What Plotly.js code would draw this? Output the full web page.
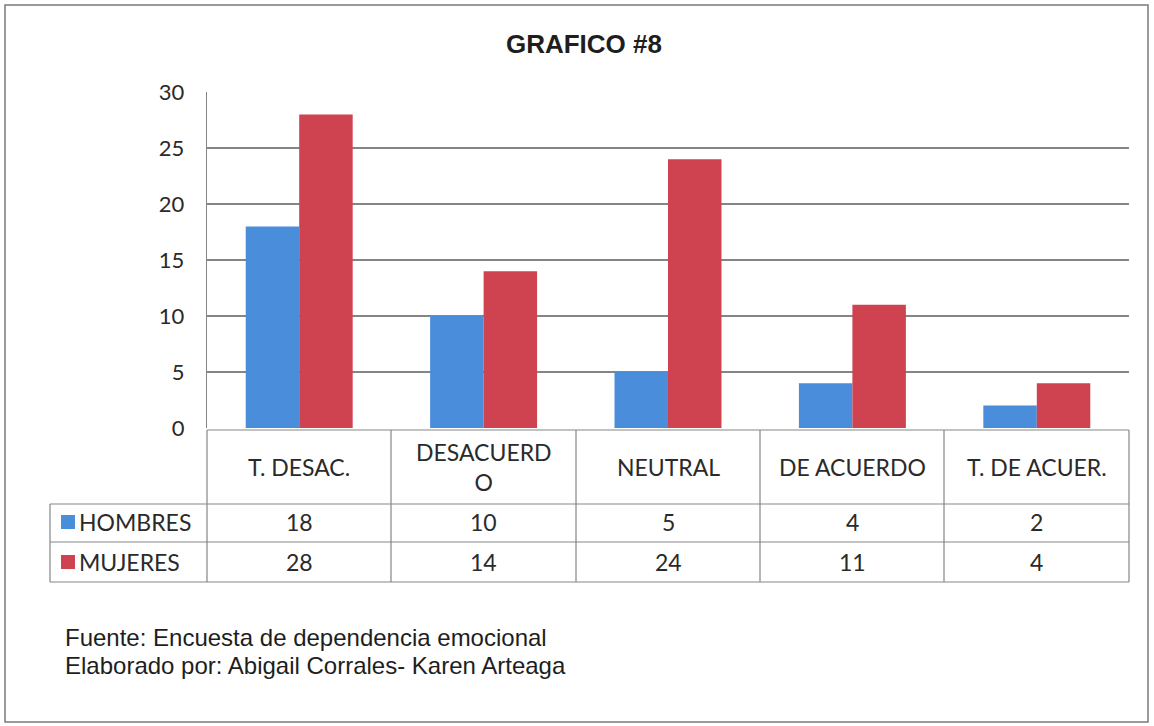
<!DOCTYPE html>
<html>
<head>
<meta charset="utf-8">
<script src="https://cdn.plot.ly/plotly-3.0.1.min.js"></script>
<style>html,body{margin:0;padding:0;background:#fff;}#chart{width:1154px;height:726px;}</style>
</head>
<body>
<div id="chart"></div>
<script>
const categories = ["T. DESAC.", "DESACUERDO", "NEUTRAL", "DE ACUERDO", "T. DE ACUER."];
const headerLabels = ["T. DESAC.", "DESACUERD<br>O", "NEUTRAL", "DE ACUERDO", "T. DE ACUER."];
const seriesNames = ["HOMBRES", "MUJERES"];
const hombres = [18, 10, 5, 4, 2];
const mujeres = [28, 14, 24, 11, 4];
const yTicks = [0, 5, 10, 15, 20, 25, 30];

const blue = "#4a8edb";
const red = "#cf4250";
const font = "Lato, 'Open Sans', sans-serif";
const xs = categories.map((c, i) => i);

const traces = [
  {type: "bar", x: xs, y: hombres, name: seriesNames[0], marker: {color: blue}, hoverinfo: "y"},
  {type: "bar", x: xs, y: mujeres, name: seriesNames[1], marker: {color: red}, hoverinfo: "y"}
];

// plot area pixels: left 207, right 1129, top 92, bottom 428
const W = 922, H = 336;
const px = x => (x - 207) / W;
const py = y => (428 - y) / H;
const lineStyle = {color: "#858585", width: 1.2};
const shapes = [];
function hline(x0, x1, y) { shapes.push({type: "line", xref: "paper", yref: "paper", x0: px(x0), x1: px(x1), y0: py(y), y1: py(y), line: lineStyle}); }
function vline(x, y0, y1) { shapes.push({type: "line", xref: "paper", yref: "paper", x0: px(x), x1: px(x), y0: py(y0), y1: py(y1), line: lineStyle}); }
// outer border
shapes.push({type: "rect", xref: "paper", yref: "paper", x0: px(5), x1: px(1148), y0: py(722), y1: py(5), line: {color: "#7a7a7a", width: 1.5}});
// table
hline(207, 1129, 430);
hline(50, 1129, 504);
hline(50, 1129, 542);
hline(50, 1129, 582);
[207, 391, 576, 760, 944, 1129].forEach(x => vline(x, 430, 582));
vline(50, 504, 582);

const annotations = [];
const rowY = [522, 562];
const tf = {family: font, size: 23, color: "#2a2a2a"};
headerLabels.forEach((lab, i) => {
  annotations.push({xref: "x", yref: "paper", x: xs[i], y: py(467), text: lab, showarrow: false, font: tf, xanchor: "center", yanchor: "middle"});
});
[hombres, mujeres].forEach((vals, r) => {
  vals.forEach((v, i) => {
    annotations.push({xref: "x", yref: "paper", x: xs[i], y: py(rowY[r]), text: String(v), showarrow: false, font: tf, xanchor: "center", yanchor: "middle"});
  });
  annotations.push({xref: "paper", yref: "paper", x: px(77), y: py(rowY[r]), text: seriesNames[r], showarrow: false, font: tf, xanchor: "left", yanchor: "middle"});
  shapes.push({type: "rect", xref: "paper", yref: "paper", x0: px(61), x1: px(75), y0: py(rowY[r] + 7), y1: py(rowY[r] - 7), fillcolor: r === 0 ? blue : red, line: {width: 0}});
});
const ff = {family: "Liberation Sans, Arial, sans-serif", size: 24, color: "#1e1e1e"};
annotations.push({xref: "paper", yref: "paper", x: px(63), y: py(637), text: "Fuente: Encuesta de dependencia emocional", showarrow: false, font: ff, xanchor: "left", yanchor: "middle"});
annotations.push({xref: "paper", yref: "paper", x: px(63), y: py(665), text: "Elaborado por: Abigail Corrales- Karen Arteaga", showarrow: false, font: ff, xanchor: "left", yanchor: "middle"});

const layout = {
  width: 1154, height: 726,
  margin: {l: 207, r: 25, t: 92, b: 298},
  paper_bgcolor: "#fff", plot_bgcolor: "#fff",
  title: {text: "<b>GRAFICO #8</b>", font: {family: "Liberation Sans, Arial, sans-serif", size: 26, color: "#1e1e1e"}, x: 0.506, xref: "container", y: 0.94, yref: "container", yanchor: "middle"},
  showlegend: false,
  barmode: "group", bargap: 0.42, bargroupgap: 0,
  xaxis: {range: [-0.5, 4.5], showticklabels: false, showgrid: false, zeroline: false, showline: false, fixedrange: true},
  yaxis: {range: [0, 30], tickvals: yTicks, ticktext: yTicks.map(String), showgrid: true, gridcolor: "#858585", gridwidth: 1.2, zeroline: false, showline: true, linecolor: "#858585", linewidth: 1.2, ticks: "", ticklabelstandoff: 17, tickfont: {family: font, size: 22, color: "#2a2a2a"}, fixedrange: true},
  shapes: shapes,
  annotations: annotations
};
Plotly.newPlot("chart", traces, layout, {displayModeBar: false, staticPlot: true});
</script>
</body>
</html>
